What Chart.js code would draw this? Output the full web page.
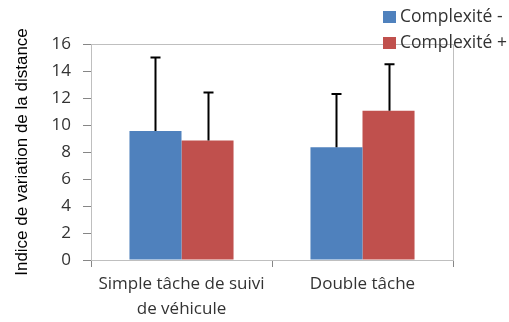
<!DOCTYPE html>
<html>
<head>
<meta charset="utf-8">
<script src="https://cdn.jsdelivr.net/npm/chart.js@4.4.1/dist/chart.umd.min.js"></script>
<style>
  html, body { margin: 0; padding: 0; background: #fff; }
  #wrap { width: 509px; height: 322px; }
</style>
</head>
<body>
<div id="wrap"><canvas id="c" width="509" height="322"></canvas></div>
<script>
const categories = [["Simple tâche de suivi", "de véhicule"], "Double tâche"];
const seriesNames = ["Complexité -", "Complexité +"];
const complexiteMoins = [9.55, 8.35];
const complexitePlus = [8.85, 11.05];
// ecart-type (barre vers le haut seulement)
const errMoins = [5.45, 3.95];
const errPlus = [3.55, 3.45];
const yTicks = [0, 2, 4, 6, 8, 10, 12, 14, 16];

const colors = ["#4F81BD", "#C0504D"];
const errors = [errMoins, errPlus];

const frame = {
  id: "frame",
  beforeDatasetsDraw(chart) {
    const { ctx, chartArea: a } = chart;
    ctx.save();
    ctx.strokeStyle = "#BFBFBF";
    ctx.lineWidth = 1;
    ctx.strokeRect(a.left + 0.5, a.top + 0.5, a.right - a.left, a.bottom - a.top);
    ctx.restore();
  },
};

const errorBars = {
  id: "errorBars",
  afterDatasetsDraw(chart) {
    const { ctx } = chart;
    const y = chart.scales.y;
    ctx.save();
    ctx.strokeStyle = "#000";
    ctx.lineWidth = 2;
    chart.data.datasets.forEach((ds, i) => {
      chart.getDatasetMeta(i).data.forEach((bar, j) => {
        const top = y.getPixelForValue(ds.data[j] + errors[i][j]);
        const x = Math.round(bar.x) + 0.5;
        ctx.beginPath();
        ctx.moveTo(x, bar.y);
        ctx.lineTo(x, top);
        ctx.moveTo(x - 5, top);
        ctx.lineTo(x + 5, top);
        ctx.stroke();
      });
    });
    ctx.restore();
  },
};

const legendBox = {
  id: "legendBox",
  afterDraw(chart) {
    const { ctx } = chart;
    ctx.save();
    ctx.font = "17.5px 'Open Sans'";
    ctx.textBaseline = "middle";
    chart.data.datasets.forEach((ds, i) => {
      const yy = 11 + i * 26;
      ctx.fillStyle = ds.backgroundColor;
      ctx.fillRect(383, yy, 13, 12);
      ctx.fillStyle = "#333";
      ctx.fillText(ds.label, 400, yy + 6);
    });
    ctx.restore();
  },
};

new Chart(document.getElementById("c").getContext("2d"), {
  type: "bar",
  data: {
    labels: categories,
    datasets: [
      { label: seriesNames[0], data: complexiteMoins, backgroundColor: colors[0] },
      { label: seriesNames[1], data: complexitePlus, backgroundColor: colors[1] },
    ],
  },
  options: {
    responsive: false,
    animation: false,
    layout: { padding: { top: 44, right: 56, left: 0, bottom: 0 } },
    datasets: { bar: { categoryPercentage: 0.575, barPercentage: 1 } },
    plugins: {
      legend: { display: false },
      tooltip: { enabled: false },
    },
    scales: {
      x: {
        afterFit(s) { s.height = 62; },
        border: { color: "#868686" },
        grid: {
          offset: true,
          drawOnChartArea: false,
          drawTicks: true,
          tickLength: 7,
          color: "#868686",
        },
        ticks: {
          color: "#333",
          padding: 5,
          font: { family: "'Open Sans'", size: 17, lineHeight: 1.47 },
          maxRotation: 0,
        },
      },
      y: {
        min: 0,
        max: 16,
        afterFit(s) { s.width = 91; },
        afterBuildTicks(s) { s.ticks = yTicks.map((v) => ({ value: v })); },
        border: { color: "#868686" },
        grid: {
          drawOnChartArea: false,
          drawTicks: true,
          tickLength: 8,
          color: "#868686",
        },
        ticks: {
          color: "#333",
          padding: 12,
          font: { family: "'Open Sans'", size: 17 },
        },
        title: {
          display: true,
          text: "Indice de variation de la distance",
          color: "#000",
          padding: { top: 12, bottom: 0 },
          font: { family: "'Liberation Sans'", size: 17 },
        },
      },
    },
  },
  plugins: [frame, errorBars, legendBox],
});
</script>
</body>
</html>
